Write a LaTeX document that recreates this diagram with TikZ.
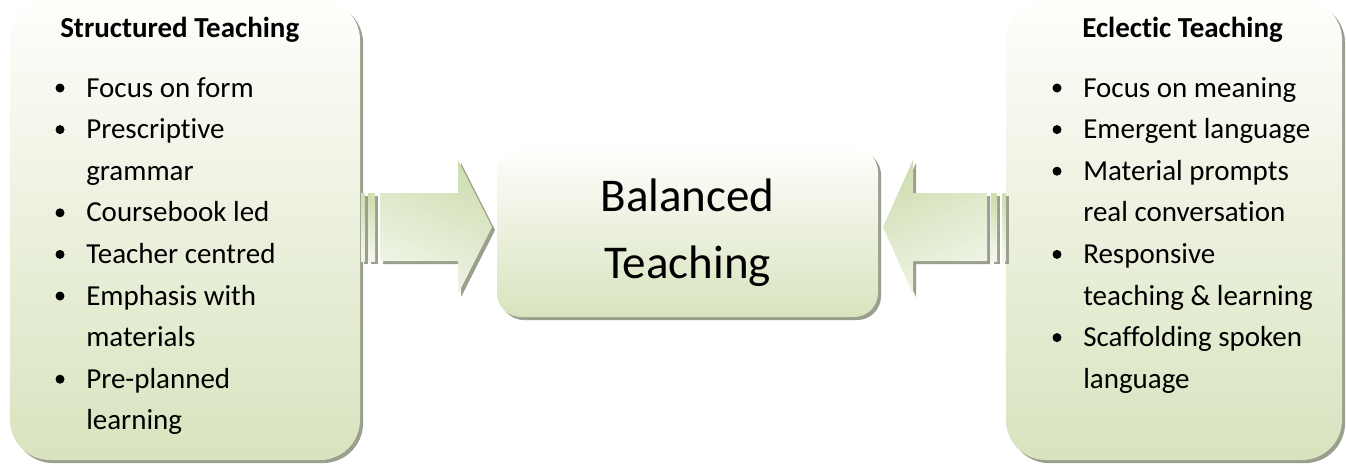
\documentclass[tikz,border=0pt]{standalone}
\usepackage{fontspec}
\setmainfont[Ligatures=NoCommon]{Carlito}
\usetikzlibrary{shadows}
\definecolor{boxtop}{HTML}{FEFEFC}
\definecolor{boxbottom}{HTML}{D8E3BE}
\definecolor{arrowgreen}{HTML}{D0DEB2}
\definecolor{arrowpale}{HTML}{F2F6EA}
\definecolor{shadowgrey}{HTML}{9B9F8D}

\begin{document}
\begin{tikzpicture}[x=0.75pt, y=0.75pt,
    panel/.style={rectangle, top color=boxtop, bottom color=boxbottom,
      drop shadow={shadow xshift=2.3pt, shadow yshift=-2.3pt, fill=shadowgrey, opacity=1}},
    bararrow/.style={top color=arrowgreen, bottom color=arrowpale,
      drop shadow={shadow xshift=2.3pt, shadow yshift=-2.3pt, fill=shadowgrey, opacity=1}},
    item/.style={anchor=base west, inner sep=0pt, font=\fontsize{21.75}{26}\selectfont},
    heading/.style={item, font=\bfseries\fontsize{21.75}{26}\selectfont}]
    \useasboundingbox (0,0) rectangle (1346,-465);

    % the three boxes
    \node [panel, minimum width=262.5pt, minimum height=345pt, rounded corners=30pt] (structured) at (185,-230) {};
    \node [panel, minimum width=252pt, minimum height=345pt, rounded corners=30pt] (eclectic) at (1174,-230) {};
    \node [panel, minimum width=285.75pt, minimum height=126.75pt, rounded corners=18pt,
      align=center, font=\fontsize{35.25}{50.25}\selectfont] (balanced) at (687.5,-232.5) {Balanced\\Teaching};

    % striped arrow pointing right
    \path [bararrow, shading angle=-25] (361,-193) rectangle (364.5,-261);
    \path [bararrow, shading angle=-25] (368,-193) rectangle (375,-261);
    \path [bararrow, shading angle=-25] (380,-193) -- (458,-193) -- (458,-160) -- (492,-227)
      -- (458,-294) -- (458,-261) -- (380,-261) -- cycle;

    % striped arrow pointing left
    \path [bararrow, shading angle=25] (1002,-193) rectangle (1005.5,-261);
    \path [bararrow, shading angle=25] (991,-193) rectangle (997,-261);
    \path [bararrow, shading angle=25] (987,-193) -- (913,-193) -- (913,-160) -- (883,-227)
      -- (913,-294) -- (913,-261) -- (987,-261) -- cycle;

    % lists
    \node [heading] (structuredtitle) at (60,-37) {Structured Teaching};
    \foreach \n/\b/\t in {1/1/Focus on form, 2/1/Prescriptive, 3/0/grammar, 4/1/Coursebook led,
      5/1/Teacher centred, 6/1/Emphasis with, 7/0/materials, 8/1/Pre-planned, 9/0/learning} {
      \node [item] (s\n) at (86, {-55.4-41.6*\n}) {\t};
      \ifnum\b=1 \fill ([shift={(-26,9)}]s\n.base west) circle (4.5); \fi
    }

    \node [heading] (eclectictitle) at (1082,-37) {Eclectic Teaching};
    \foreach \n/\b/\t in {1/1/Focus on meaning, 2/1/Emergent language, 3/1/Material prompts,
      4/0/real conversation, 5/1/Responsive, 6/0/teaching \& learning, 7/1/Scaffolding spoken,
      8/0/language} {
      \node [item] (e\n) at (1083, {-55.4-41.6*\n}) {\t};
      \ifnum\b=1 \fill ([shift={(-26,9)}]e\n.base west) circle (4.5); \fi
    }
\end{tikzpicture}
\end{document}
